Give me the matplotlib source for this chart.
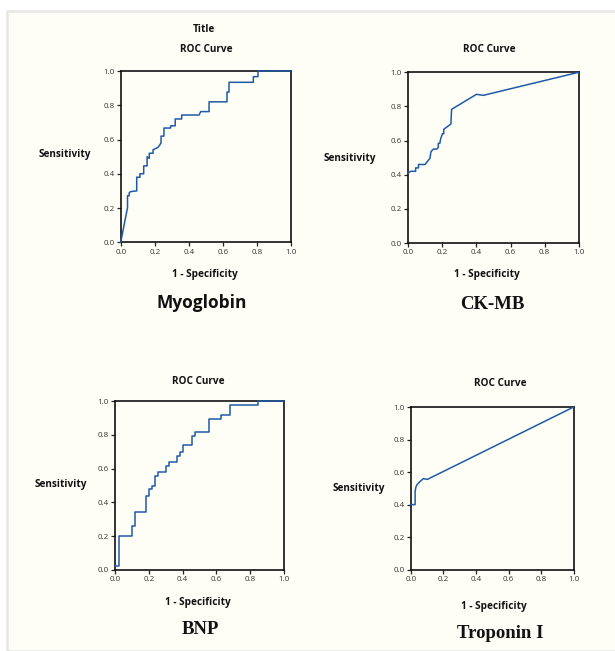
import numpy as np
import matplotlib.pyplot as plt
from matplotlib.patches import Rectangle

W, H = 615, 651

# ROC curve vertices (1 - specificity, sensitivity)
myo_fpr = [0.0, 0.04, 0.04, 0.05, 0.05, 0.059, 0.094, 0.094, 0.113, 0.113, 0.135, 0.135,
           0.155, 0.155, 0.168, 0.168, 0.19, 0.19, 0.22, 0.237, 0.237, 0.254, 0.254, 0.293,
           0.293, 0.32, 0.32, 0.358, 0.358, 0.46, 0.47, 0.519, 0.519, 0.624, 0.624, 0.636,
           0.636, 0.779, 0.779, 0.806, 0.806, 1.0]
myo_tpr = [0.0, 0.202, 0.272, 0.272, 0.29, 0.296, 0.30, 0.38, 0.38, 0.40, 0.40, 0.446,
           0.446, 0.50, 0.49, 0.52, 0.52, 0.54, 0.555, 0.58, 0.62, 0.62, 0.667, 0.667,
           0.68, 0.68, 0.72, 0.72, 0.743, 0.743, 0.763, 0.763, 0.82, 0.82, 0.877, 0.877,
           0.934, 0.934, 0.967, 0.967, 1.0, 1.0]

ckmb_fpr = [0.0, 0.014, 0.043, 0.043, 0.06, 0.06, 0.098, 0.127, 0.133, 0.147, 0.166, 0.176,
            0.176, 0.185, 0.19, 0.2, 0.208, 0.208, 0.25, 0.254, 0.40, 0.44, 1.0]
ckmb_tpr = [0.41, 0.42, 0.42, 0.44, 0.44, 0.46, 0.46, 0.496, 0.535, 0.55, 0.55, 0.56,
            0.584, 0.584, 0.61, 0.64, 0.64, 0.666, 0.697, 0.783, 0.871, 0.865, 1.0]

bnp_fpr = [0.0, 0.022, 0.022, 0.097, 0.097, 0.119, 0.119, 0.184, 0.184, 0.198, 0.198,
           0.216, 0.216, 0.236, 0.236, 0.255, 0.255, 0.301, 0.301, 0.32, 0.32, 0.364,
           0.364, 0.384, 0.384, 0.402, 0.402, 0.457, 0.457, 0.475, 0.475, 0.556, 0.556,
           0.626, 0.626, 0.681, 0.681, 0.847, 0.847, 1.0]
bnp_tpr = [0.024, 0.024, 0.202, 0.202, 0.259, 0.259, 0.34, 0.34, 0.44, 0.44, 0.48,
           0.48, 0.50, 0.50, 0.556, 0.556, 0.58, 0.58, 0.616, 0.616, 0.64, 0.64,
           0.677, 0.677, 0.697, 0.697, 0.74, 0.74, 0.794, 0.794, 0.82, 0.82, 0.897,
           0.897, 0.92, 0.92, 0.976, 0.976, 1.0, 1.0]

trop_fpr = [0.0, 0.027, 0.027, 0.031, 0.037, 0.055, 0.078, 0.102, 1.0]
trop_tpr = [0.40, 0.40, 0.48, 0.505, 0.52, 0.54, 0.56, 0.555, 1.0]

ticks = [0.0, 0.2, 0.4, 0.6, 0.8, 1.0]
tick_labels = ["0.0", "0.2", "0.4", "0.6", "0.8", "1.0"]

# name, curve, axes box in pixels (left, right, top, bottom), label positions
panels = [
    ("Myoglobin", myo_fpr, myo_tpr, (120.7, 291, 71, 242.3),
     (206, 49), (65, 154), (205, 274), (202, 303), "sans"),
    ("CK-MB", ckmb_fpr, ckmb_tpr, (408.3, 578.7, 72.3, 243),
     (489, 49), (350, 158), (487, 274), (492, 305), "serif"),
    ("BNP", bnp_fpr, bnp_tpr, (115.3, 283.7, 401.3, 569.7),
     (198, 381), (61, 485), (198, 603), (200, 630), "serif"),
    ("Troponin I", trop_fpr, trop_tpr, (410.7, 573.7, 407, 569.7),
     (500, 384), (359, 488), (494, 607), (500, 633), "serif"),
]

line_color = "#1f5aa6"
bg = "#fefef6"

fig = plt.figure(figsize=(W / 100, H / 100), dpi=100)
fig.patch.set_facecolor("white")
fig.patches.append(Rectangle((7 / W, 0), 1, 1 - 11 / H, transform=fig.transFigure,
                             facecolor=bg, edgecolor="#e6e6e6", linewidth=1.8, zorder=-5))

def fx(px):
    return px / W

def fy(py):
    return 1 - py / H

small = dict(family="Open Sans", fontweight="bold", fontsize=7.2, color="#111111",
             ha="center", va="center")

fig.text(fx(204), fy(30), "Title", **small)

for name, xs, ys, box, roc_pos, sens_pos, spec_pos, name_pos, style in panels:
    l, r, t, b = box
    ax = fig.add_axes([fx(l), fy(b), (r - l) / W, (b - t) / H])
    ax.set_zorder(2)
    ax.set_facecolor(bg)
    ax.plot(xs, ys, color=line_color, linewidth=1.1, clip_on=False, zorder=3)
    ax.set_xlim(0, 1)
    ax.set_ylim(0, 1)
    ax.set_xticks(ticks)
    ax.set_yticks(ticks)
    ax.set_xticklabels(tick_labels, family="Open Sans", fontsize=5.8, color="#333333")
    ax.set_yticklabels(tick_labels, family="Open Sans", fontsize=5.8, color="#333333")
    ax.tick_params(direction="out", length=3, width=0.9, pad=1.5, color="#222222")
    for sp in ax.spines.values():
        sp.set_linewidth(1.2)
        sp.set_color("#111111")

    fig.text(fx(roc_pos[0]), fy(roc_pos[1]), "ROC Curve", **small)
    fig.text(fx(sens_pos[0]), fy(sens_pos[1]), "Sensitivity", **small)
    fig.text(fx(spec_pos[0]), fy(spec_pos[1]), "1 - Specificity", **small)
    if style == "sans":
        fig.text(fx(name_pos[0]), fy(name_pos[1]), name, family="Open Sans",
                 fontweight="bold", fontsize=12.5, color="#111111", ha="center", va="center")
    else:
        fig.text(fx(name_pos[0]), fy(name_pos[1]), name, family="Liberation Serif",
                 fontweight="bold", fontsize=13.5, color="#111111", ha="center", va="center")

fig.savefig("out.png", dpi=100, facecolor=fig.get_facecolor())
